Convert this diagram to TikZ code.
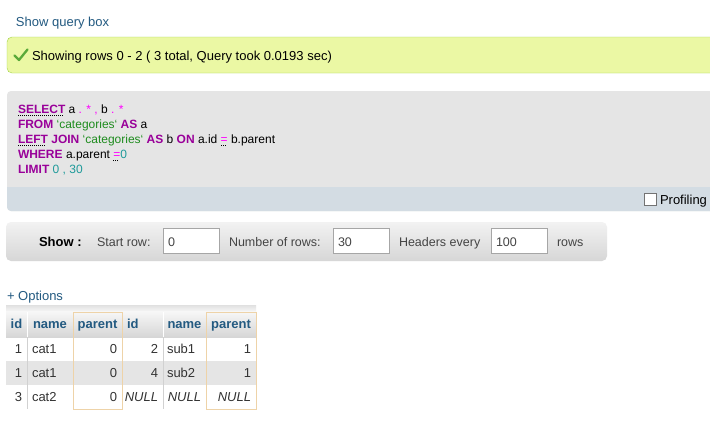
\documentclass[tikz,border=0pt]{standalone}
\usepackage{fontspec}
\setmainfont{Liberation Sans}
\definecolor{linkblue}{HTML}{235A81}
\definecolor{okfill}{HTML}{EBF8A4}
\definecolor{okdraw}{HTML}{A2D246}
\definecolor{sqlbg}{HTML}{E5E5E5}
\definecolor{sqlstrip}{HTML}{D3DCE3}
\definecolor{kwc}{HTML}{990099}
\definecolor{strc}{HTML}{1E8C1E}
\definecolor{numc}{HTML}{1E9A9A}
\definecolor{puc}{HTML}{FF00FF}
\definecolor{cellbd}{HTML}{EED3A8}
\definecolor{rowalt}{HTML}{E5E5E5}
\definecolor{celltxt}{HTML}{333333}
\definecolor{checkc}{HTML}{5AAA3A}
\definecolor{showtxt}{HTML}{444444}
\newcommand\fsz[1]{\fontsize{#1}{#1}\selectfont}
\newcommand\kw[1]{\textcolor{kwc}{\bfseries #1}}
\newcommand\strg[1]{\textcolor{strc}{\symbol{96}#1\symbol{96}}}
\newcommand\numv[1]{\textcolor{numc}{#1}}
\newcommand\punc[1]{\textcolor{puc}{#1}}
\newlength\dulen
\newcommand\dotu[1]{\settowidth\dulen{#1}\rlap{#1}\raisebox{-3pt}{\color{black}\leaders\hbox to 2pt{\rule{1pt}{1pt}\hss}\hskip\dulen}}
\begin{document}
\begin{tikzpicture}[x=1pt,y=-1pt,
  every node/.style={inner sep=0pt, outer sep=0pt},
  txt/.style={anchor=base west, font=\fsz{13}},
  linktxt/.style={txt, text=linkblue},
  sqlln/.style={anchor=base west, font=\fsz{12}},
  showlbl/.style={anchor=base west, font=\fsz{12.5}, text=showtxt},
  inbox/.style={draw=black!35, fill=white, anchor=north west, minimum width=56, minimum height=25},
  hd/.style={anchor=base, font=\bfseries\fsz{13}, text=linkblue},
  cr/.style={anchor=base east, font=\fsz{13}, text=celltxt},
  cl/.style={anchor=base west, font=\fsz{13}, text=celltxt},
  nul/.style={anchor=base east, font=\itshape\fsz{13}, text=celltxt},
]
\useasboundingbox[fill=white] (0,0) rectangle (710,437);
\clip (0,0) rectangle (710,437);

% link
\node[linktxt] (showq) at (16,26) {Show query box};

% success message
\draw[draw=okdraw, fill=okfill, rounded corners=5] (7,37) rectangle (720,73);
\draw[checkc, line width=2.3, line cap=round, line join=round] (14.5,55.5) -- (19,60) -- (27.5,49.5);
\node[txt] (msg) at (32,60) {Showing rows 0 - 2 ( 3 total, Query took 0.0193 sec)};

% SQL box
\fill[sqlbg, rounded corners=4] (7,91) rectangle (720,211);
\fill[sqlstrip, rounded corners=4] (7,180) rectangle (720,211);
\fill[sqlbg] (7,180) rectangle (720,187);
\node[sqlln] (l1) at (18,113) {\dotu{\kw{SELECT}} a \punc{.} \punc{*} \punc{,} b \punc{.} \punc{*}};
\node[sqlln] (l2) at (18,128) {\kw{FROM} \strg{categories} \kw{AS} a};
\node[sqlln] (l3) at (18,143) {\dotu{\kw{LEFT}} \kw{JOIN} \strg{categories} \kw{AS} b \kw{ON} a.id \dotu{\punc{=}} b.parent};
\node[sqlln] (l4) at (18,158) {\kw{WHERE} a.parent \dotu{\punc{=}}\numv{0}};
\node[sqlln] (l5) at (18,173) {\kw{LIMIT} \numv{0} \numv{,} \numv{30}};
\node[draw=black!55, fill=white, minimum size=12, anchor=north west] (cb) at (644,193) {};
\node[txt] (prof) at (660,204) {Profiling};

% Show bar
\shade[top color=black!5, bottom color=black!16, rounded corners=5] (6,222) rectangle (607,261);
\node[anchor=base west, font=\bfseries\fsz{13}] (show) at (39,246.5) {Show :};
\node[showlbl] (sr) at (97,246.5) {Start row:};
\node[inbox] (b1) at (163,228) {};
\node[showlbl] (v1) at (168,246.5) {0};
\node[showlbl] (nr) at (229,246.5) {Number of rows:};
\node[inbox] (b2) at (333,228) {};
\node[showlbl] (v2) at (338,246.5) {30};
\node[showlbl] (he) at (399,246.5) {Headers every};
\node[inbox] (b3) at (491,228) {};
\node[showlbl] (v3) at (496,246.5) {100};
\node[showlbl] (rw) at (557,246.5) {rows};

% Options
\node[linktxt] (opt) at (7,300) {+ Options};

% table
\shade[top color=black!12, bottom color=black!4] (6,305) rectangle (256,311);
\shade[top color=black!3, bottom color=black!16] (6,311) rectangle (256,337);
\fill[rowalt] (6,361) rectangle (256,385);
\draw[white, line width=1] (27,312) -- (27,337) (163,312) -- (163,337);
\draw[black!18] (27,337) -- (27,409) (163,337) -- (163,409);
\draw[cellbd] (73,312) rectangle (122,409);
\draw[cellbd] (206,312) rectangle (256,409);

\node[hd] (h0) at (16.5,328.5) {id};
\node[hd] (h1) at (50,328.5) {name};
\node[hd] (h2) at (97.5,328.5) {parent};
\node[hd, anchor=base west] (h3) at (127,328.5) {id};
\node[hd] (h4) at (184.5,328.5) {name};
\node[hd] (h5) at (231,328.5) {parent};

\node[cr] (a0) at (22,353.5) {1};
\node[cl] (a1) at (32,353.5) {cat1};
\node[cr] (a2) at (117,353.5) {0};
\node[cr] (a3) at (158,353.5) {2};
\node[cl] (a4) at (167,353.5) {sub1};
\node[cr] (a5) at (251,353.5) {1};

\node[cr] (b0) at (22,377.5) {1};
\node[cl] (bb1) at (32,377.5) {cat1};
\node[cr] (bb2) at (117,377.5) {0};
\node[cr] (bb3) at (158,377.5) {4};
\node[cl] (bb4) at (167,377.5) {sub2};
\node[cr] (bb5) at (251,377.5) {1};

\node[cr] (c0) at (22,401.5) {3};
\node[cl] (c1) at (32,401.5) {cat2};
\node[cr] (c2) at (117,401.5) {0};
\node[nul] (c3) at (158,401.5) {NULL};
\node[nul] (c4) at (201,401.5) {NULL};
\node[nul] (c5) at (251,401.5) {NULL};
\end{tikzpicture}
\end{document}
